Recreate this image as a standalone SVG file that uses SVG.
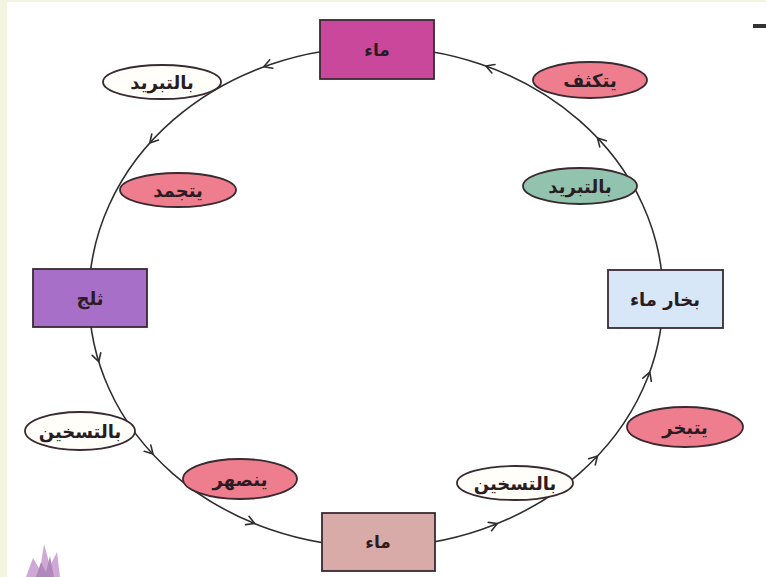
<svg xmlns="http://www.w3.org/2000/svg" width="766" height="577" viewBox="0 0 766 577">
<style>
.lbl{font-family:"DejaVu Sans","Noto Sans",sans-serif;font-weight:bold;font-size:18px;fill:#2a1c22;text-anchor:middle;dominant-baseline:central}
.sm{font-size:17px}
.box{stroke:#3a2a32;stroke-width:1.8}
.ell{stroke:#3a2a32;stroke-width:1.8}
.arr{fill:none;stroke:#2e2e2e;stroke-width:1.6;stroke-linecap:round;stroke-linejoin:round}
.pink{fill:#ee7d8e}
.white{fill:#fffef8}
</style>
<defs>
<path id="chev" d="M-8,-4.5 L0,0 L-8,4.5"/>
</defs>
<rect x="0" y="0" width="766" height="577" fill="#ffffff"/>
<rect x="0" y="0" width="7" height="577" fill="#f3f5e0"/>
<rect x="0" y="0" width="766" height="2" fill="#f3f5e0"/>
<rect x="753" y="24" width="13" height="4" fill="#333"/>
<g id="deco" opacity="0.6">
<polygon points="26,577 33,558 40,570 44,544 50,566 57,552 60,577" fill="#b070bd"/>
<polygon points="36,577 41,562 46,572 50,556 54,577" fill="#7d3a8d"/>
</g>
<g id="connectors">
<ellipse cx="376" cy="297" rx="287" ry="250" fill="none" stroke="#2e2e2e" stroke-width="1.6"/>
<use href="#chev" class="arr" transform="translate(263.8,66.8) rotate(159.7)"/>
<use href="#chev" class="arr" transform="translate(149.8,143) rotate(131.9)"/>
<use href="#chev" class="arr" transform="translate(98.8,361.7) rotate(72.9)"/>
<use href="#chev" class="arr" transform="translate(153,454) rotate(47)"/>
<use href="#chev" class="arr" transform="translate(254.7,523.5) rotate(22.1)"/>
<use href="#chev" class="arr" transform="translate(497.3,523.5) rotate(-22.1)"/>
<use href="#chev" class="arr" transform="translate(597.5,456) rotate(-46.6)"/>
<use href="#chev" class="arr" transform="translate(649.8,372.2) rotate(-70.1)"/>
<use href="#chev" class="arr" transform="translate(597.5,138) rotate(-133.4)"/>
<use href="#chev" class="arr" transform="translate(485.9,66) rotate(-160.2)"/>
</g>
<g id="water-top">
<rect class="box" x="320" y="20" width="114" height="59" fill="#c9489c"/>
<text class="lbl sm" x="377" y="50">ماء</text>
</g>
<g id="ice">
<rect class="box" x="33" y="269" width="114" height="58" fill="#a86fc9"/>
<text class="lbl" x="90" y="298">ثلج</text>
</g>
<g id="water-bottom">
<rect class="box" x="322" y="513" width="113" height="58" fill="#d8aaa8"/>
<text class="lbl sm" x="378" y="542">ماء</text>
</g>
<g id="vapor">
<rect class="box" x="608" y="270" width="115" height="58" fill="#d8e7f7"/>
<text class="lbl" x="665" y="299">بخار ماء</text>
</g>
<g id="cooling-1">
<ellipse class="ell white" cx="162" cy="82" rx="59" ry="17"/>
<text class="lbl" x="162" y="82">بالتبريد</text>
</g>
<g id="freezes">
<ellipse class="ell pink" cx="178" cy="190" rx="58" ry="17"/>
<text class="lbl" x="178" y="190">يتجمد</text>
</g>
<g id="heating-1">
<ellipse class="ell white" cx="80" cy="431" rx="55" ry="19"/>
<text class="lbl" x="80" y="431">بالتسخين</text>
</g>
<g id="melts">
<ellipse class="ell pink" cx="240" cy="479" rx="57" ry="20"/>
<text class="lbl" x="240" y="479">ينصهر</text>
</g>
<g id="heating-2">
<ellipse class="ell white" cx="515" cy="483" rx="58" ry="17"/>
<text class="lbl" x="515" y="483">بالتسخين</text>
</g>
<g id="evaporates">
<ellipse class="ell pink" cx="685" cy="427" rx="58" ry="20"/>
<text class="lbl" x="685" y="427">يتبخر</text>
</g>
<g id="cooling-2">
<ellipse class="ell" cx="580" cy="186" rx="57" ry="18" fill="#91c3ae"/>
<text class="lbl" x="580" y="186">بالتبريد</text>
</g>
<g id="condenses">
<ellipse class="ell pink" cx="590" cy="80" rx="57" ry="18"/>
<text class="lbl" x="590" y="80">يتكثف</text>
</g>
</svg>
